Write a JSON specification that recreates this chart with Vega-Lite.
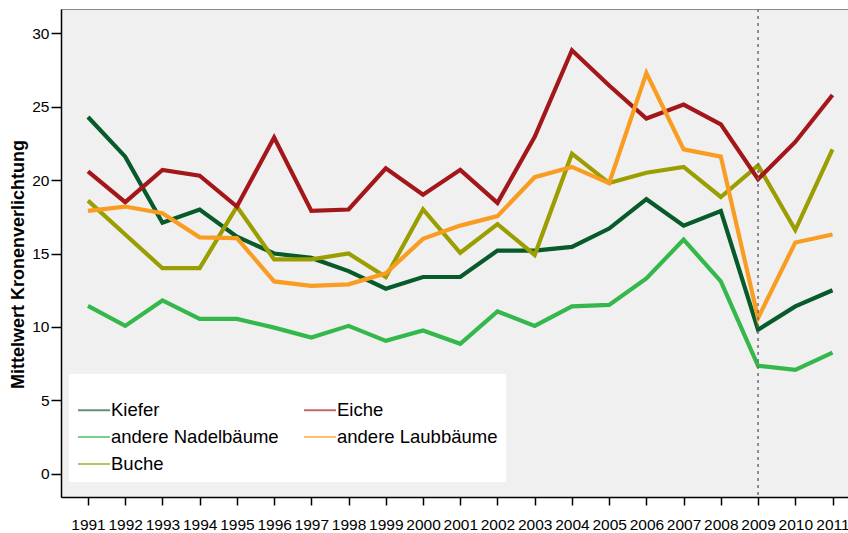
{
  "$schema": "https://vega.github.io/schema/vega-lite/v6.json",
  "width": 787,
  "height": 488,
  "autosize": {"type": "none"},
  "padding": {"left": 61, "top": 9, "right": 0, "bottom": 36},
  "config": {
    "font": "Liberation Sans",
    "view": {"fill": "#f0f0f0", "stroke": "#8a8a8a"},
    "axis": {"domainColor": "#000000", "domainWidth": 1.5, "tickColor": "#000000", "tickWidth": 1.5, "labelColor": "#000000", "grid": false, "labelFont": "Liberation Sans", "titleColor": "#000000"}
  },
  "datasets": {
    "kronen": [
      {"Jahr": 1991, "Art": "Kiefer", "Wert": 24.3},
      {"Jahr": 1992, "Art": "Kiefer", "Wert": 21.6},
      {"Jahr": 1993, "Art": "Kiefer", "Wert": 17.1},
      {"Jahr": 1994, "Art": "Kiefer", "Wert": 18.0},
      {"Jahr": 1995, "Art": "Kiefer", "Wert": 16.15},
      {"Jahr": 1996, "Art": "Kiefer", "Wert": 15.0},
      {"Jahr": 1997, "Art": "Kiefer", "Wert": 14.7},
      {"Jahr": 1998, "Art": "Kiefer", "Wert": 13.8},
      {"Jahr": 1999, "Art": "Kiefer", "Wert": 12.6},
      {"Jahr": 2000, "Art": "Kiefer", "Wert": 13.4},
      {"Jahr": 2001, "Art": "Kiefer", "Wert": 13.4},
      {"Jahr": 2002, "Art": "Kiefer", "Wert": 15.2},
      {"Jahr": 2003, "Art": "Kiefer", "Wert": 15.2},
      {"Jahr": 2004, "Art": "Kiefer", "Wert": 15.45},
      {"Jahr": 2005, "Art": "Kiefer", "Wert": 16.7},
      {"Jahr": 2006, "Art": "Kiefer", "Wert": 18.7},
      {"Jahr": 2007, "Art": "Kiefer", "Wert": 16.9},
      {"Jahr": 2008, "Art": "Kiefer", "Wert": 17.9},
      {"Jahr": 2009, "Art": "Kiefer", "Wert": 9.8},
      {"Jahr": 2010, "Art": "Kiefer", "Wert": 11.4},
      {"Jahr": 2011, "Art": "Kiefer", "Wert": 12.5},

      {"Jahr": 1991, "Art": "andere Nadelbäume", "Wert": 11.43},
      {"Jahr": 1992, "Art": "andere Nadelbäume", "Wert": 10.07},
      {"Jahr": 1993, "Art": "andere Nadelbäume", "Wert": 11.8},
      {"Jahr": 1994, "Art": "andere Nadelbäume", "Wert": 10.54},
      {"Jahr": 1995, "Art": "andere Nadelbäume", "Wert": 10.54},
      {"Jahr": 1996, "Art": "andere Nadelbäume", "Wert": 9.95},
      {"Jahr": 1997, "Art": "andere Nadelbäume", "Wert": 9.27},
      {"Jahr": 1998, "Art": "andere Nadelbäume", "Wert": 10.07},
      {"Jahr": 1999, "Art": "andere Nadelbäume", "Wert": 9.05},
      {"Jahr": 2000, "Art": "andere Nadelbäume", "Wert": 9.75},
      {"Jahr": 2001, "Art": "andere Nadelbäume", "Wert": 8.85},
      {"Jahr": 2002, "Art": "andere Nadelbäume", "Wert": 11.05},
      {"Jahr": 2003, "Art": "andere Nadelbäume", "Wert": 10.07},
      {"Jahr": 2004, "Art": "andere Nadelbäume", "Wert": 11.4},
      {"Jahr": 2005, "Art": "andere Nadelbäume", "Wert": 11.5},
      {"Jahr": 2006, "Art": "andere Nadelbäume", "Wert": 13.3},
      {"Jahr": 2007, "Art": "andere Nadelbäume", "Wert": 15.95},
      {"Jahr": 2008, "Art": "andere Nadelbäume", "Wert": 13.1},
      {"Jahr": 2009, "Art": "andere Nadelbäume", "Wert": 7.35},
      {"Jahr": 2010, "Art": "andere Nadelbäume", "Wert": 7.07},
      {"Jahr": 2011, "Art": "andere Nadelbäume", "Wert": 8.25},

      {"Jahr": 1991, "Art": "Buche", "Wert": 18.6},
      {"Jahr": 1992, "Art": "Buche", "Wert": 16.3},
      {"Jahr": 1993, "Art": "Buche", "Wert": 14.0},
      {"Jahr": 1994, "Art": "Buche", "Wert": 14.0},
      {"Jahr": 1995, "Art": "Buche", "Wert": 18.2},
      {"Jahr": 1996, "Art": "Buche", "Wert": 14.6},
      {"Jahr": 1997, "Art": "Buche", "Wert": 14.6},
      {"Jahr": 1998, "Art": "Buche", "Wert": 15.0},
      {"Jahr": 1999, "Art": "Buche", "Wert": 13.4},
      {"Jahr": 2000, "Art": "Buche", "Wert": 18.0},
      {"Jahr": 2001, "Art": "Buche", "Wert": 15.05},
      {"Jahr": 2002, "Art": "Buche", "Wert": 17.0},
      {"Jahr": 2003, "Art": "Buche", "Wert": 14.9},
      {"Jahr": 2004, "Art": "Buche", "Wert": 21.8},
      {"Jahr": 2005, "Art": "Buche", "Wert": 19.8},
      {"Jahr": 2006, "Art": "Buche", "Wert": 20.5},
      {"Jahr": 2007, "Art": "Buche", "Wert": 20.9},
      {"Jahr": 2008, "Art": "Buche", "Wert": 18.85},
      {"Jahr": 2009, "Art": "Buche", "Wert": 21.0},
      {"Jahr": 2010, "Art": "Buche", "Wert": 16.6},
      {"Jahr": 2011, "Art": "Buche", "Wert": 22.1},

      {"Jahr": 1991, "Art": "Eiche", "Wert": 20.6},
      {"Jahr": 1992, "Art": "Eiche", "Wert": 18.5},
      {"Jahr": 1993, "Art": "Eiche", "Wert": 20.7},
      {"Jahr": 1994, "Art": "Eiche", "Wert": 20.3},
      {"Jahr": 1995, "Art": "Eiche", "Wert": 18.2},
      {"Jahr": 1996, "Art": "Eiche", "Wert": 22.9},
      {"Jahr": 1997, "Art": "Eiche", "Wert": 17.9},
      {"Jahr": 1998, "Art": "Eiche", "Wert": 18.0},
      {"Jahr": 1999, "Art": "Eiche", "Wert": 20.8},
      {"Jahr": 2000, "Art": "Eiche", "Wert": 19.0},
      {"Jahr": 2001, "Art": "Eiche", "Wert": 20.7},
      {"Jahr": 2002, "Art": "Eiche", "Wert": 18.45},
      {"Jahr": 2003, "Art": "Eiche", "Wert": 22.95},
      {"Jahr": 2004, "Art": "Eiche", "Wert": 28.85},
      {"Jahr": 2005, "Art": "Eiche", "Wert": 26.45},
      {"Jahr": 2006, "Art": "Eiche", "Wert": 24.2},
      {"Jahr": 2007, "Art": "Eiche", "Wert": 25.15},
      {"Jahr": 2008, "Art": "Eiche", "Wert": 23.8},
      {"Jahr": 2009, "Art": "Eiche", "Wert": 20.07},
      {"Jahr": 2010, "Art": "Eiche", "Wert": 22.6},
      {"Jahr": 2011, "Art": "Eiche", "Wert": 25.8},

      {"Jahr": 1991, "Art": "andere Laubbäume", "Wert": 17.9},
      {"Jahr": 1992, "Art": "andere Laubbäume", "Wert": 18.2},
      {"Jahr": 1993, "Art": "andere Laubbäume", "Wert": 17.75},
      {"Jahr": 1994, "Art": "andere Laubbäume", "Wert": 16.1},
      {"Jahr": 1995, "Art": "andere Laubbäume", "Wert": 16.05},
      {"Jahr": 1996, "Art": "andere Laubbäume", "Wert": 13.1},
      {"Jahr": 1997, "Art": "andere Laubbäume", "Wert": 12.8},
      {"Jahr": 1998, "Art": "andere Laubbäume", "Wert": 12.9},
      {"Jahr": 1999, "Art": "andere Laubbäume", "Wert": 13.65},
      {"Jahr": 2000, "Art": "andere Laubbäume", "Wert": 16.0},
      {"Jahr": 2001, "Art": "andere Laubbäume", "Wert": 16.9},
      {"Jahr": 2002, "Art": "andere Laubbäume", "Wert": 17.55},
      {"Jahr": 2003, "Art": "andere Laubbäume", "Wert": 20.2},
      {"Jahr": 2004, "Art": "andere Laubbäume", "Wert": 20.9},
      {"Jahr": 2005, "Art": "andere Laubbäume", "Wert": 19.8},
      {"Jahr": 2006, "Art": "andere Laubbäume", "Wert": 27.3},
      {"Jahr": 2007, "Art": "andere Laubbäume", "Wert": 22.1},
      {"Jahr": 2008, "Art": "andere Laubbäume", "Wert": 21.6},
      {"Jahr": 2009, "Art": "andere Laubbäume", "Wert": 10.6},
      {"Jahr": 2010, "Art": "andere Laubbäume", "Wert": 15.75},
      {"Jahr": 2011, "Art": "andere Laubbäume", "Wert": 16.3}
    ],
    "marker": [{"Jahr": 2009}]
  },
  "layer": [
    {
      "data": {"name": "kronen"},
      "mark": {"type": "line", "strokeWidth": 4.2, "strokeJoin": "miter", "strokeCap": "butt"},
      "encoding": {
        "x": {
          "field": "Jahr", "type": "quantitative",
          "scale": {"domain": [1990.275, 2011.416], "nice": false, "zero": false},
          "axis": {
            "title": null, "values": [1991,1992,1993,1994,1995,1996,1997,1998,1999,2000,2001,2002,2003,2004,2005,2006,2007,2008,2009,2010,2011],
            "tickCount": 30,
            "format": "d", "tickSize": 8, "labelPadding": 12, "labelFontSize": 15.5,
            "labelOverlap": false, "labelFlush": false
          }
        },
        "y": {
          "field": "Wert", "type": "quantitative",
          "scale": {"domain": [-1.59, 31.66], "nice": false, "zero": false},
          "axis": {
            "title": "Mittelwert Kronenverlichtung", "titleFontSize": 18, "titleFontWeight": "bold",
            "titlePadding": 4, "titleY": 255, "values": [0, 5, 10, 15, 20, 25, 30], "tickSize": 10,
            "labelPadding": 2, "labelFontSize": 15.5
          }
        },
        "color": {
          "field": "Art", "type": "nominal",
          "scale": {
            "domain": ["Kiefer", "andere Nadelbäume", "Buche", "Eiche", "andere Laubbäume"],
            "range": ["#075a2a", "#34b84b", "#9b9e00", "#a3171b", "#f99d22"]
          },
          "legend": {
            "orient": "none", "legendX": 8, "legendY": 365, "direction": "vertical", "columns": 2,
            "title": " ", "titleFontSize": 7, "titlePadding": 4,
            "fillColor": "#ffffff", "padding": 8,
            "symbolType": "stroke", "symbolSize": 1024, "symbolStrokeWidth": 2, "symbolOpacity": 0.65,
            "labelFontSize": 18.5, "labelColor": "#000000", "labelOffset": 0, "labelLimit": 400,
            "rowPadding": -7, "columnPadding": 21
          }
        },
        "order": {"field": "Jahr", "type": "quantitative"}
      }
    },
    {
      "data": {"name": "marker"},
      "mark": {"type": "rule", "color": "#6e6e6e", "strokeWidth": 1.5, "strokeDash": [3, 4]},
      "encoding": {
        "x": {"field": "Jahr", "type": "quantitative"}
      }
    }
  ]
}
